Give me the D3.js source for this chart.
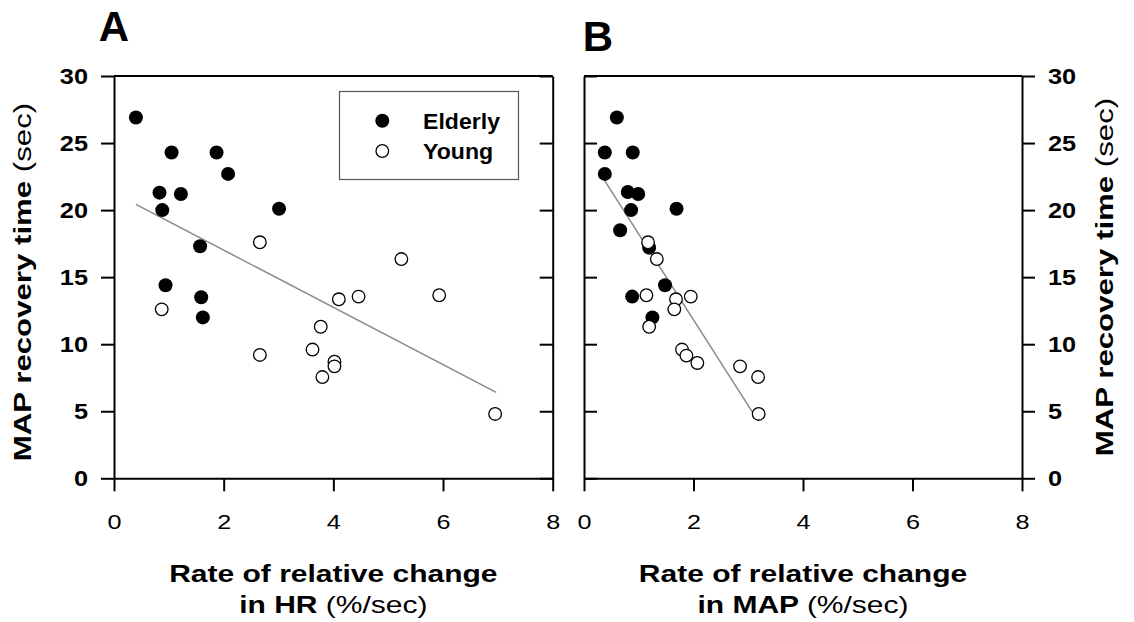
<!DOCTYPE html>
<html>
<head>
<meta charset="utf-8">
<script src="https://cdn.jsdelivr.net/npm/d3@7"></script>
<style>
  html, body { margin: 0; padding: 0; background: #fff; }
  svg { display: block; }
  text { font-family: "Liberation Sans", Arial, Helvetica, sans-serif; fill: #000; }
</style>
</head>
<body>
<svg id="chart" width="1134" height="622"></svg>
<script>
// Panel A: MAP recovery time vs rate of relative change in HR
const hrElderlyX = [0.40, 1.05, 1.87, 2.08, 0.83, 1.22, 0.88, 3.01, 1.57, 0.94, 1.59, 1.62];
const hrElderlyY = [26.9, 24.3, 24.3, 22.7, 21.3, 21.2, 20.0, 20.1, 17.3, 14.4, 13.5, 12.0];
const hrYoungX = [0.87, 2.66, 4.10, 4.46, 3.77, 2.66, 3.62, 4.02, 4.02, 3.80, 5.24, 5.93, 6.95];
const hrYoungY = [12.6, 17.6, 13.35, 13.55, 11.3, 9.2, 9.6, 8.7, 8.35, 7.55, 16.35, 13.65, 4.8];
const hrFitX = [0.40, 6.97];
const hrFitY = [20.43, 6.41];

// Panel B: MAP recovery time vs rate of relative change in MAP
const mapElderlyX = [0.60, 0.38, 0.89, 0.38, 0.80, 0.99, 0.86, 1.69, 0.66, 1.19, 1.48, 0.88, 1.25];
const mapElderlyY = [26.9, 24.3, 24.3, 22.7, 21.35, 21.2, 20.0, 20.1, 18.5, 17.2, 14.4, 13.55, 12.0];
const mapYoungX = [1.17, 1.33, 1.14, 1.68, 1.95, 1.65, 1.19, 1.79, 1.87, 2.07, 2.85, 3.18, 3.19];
const mapYoungY = [17.6, 16.35, 13.65, 13.35, 13.55, 12.6, 11.3, 9.6, 9.15, 8.6, 8.35, 7.55, 4.8];
const mapFitX = [0.38, 3.12];
const mapFitY = [22.18, 4.65];

const xTicks = [0, 2, 4, 6, 8];
const yTicks = [0, 5, 10, 15, 20, 25, 30];
const legendLabels = ["Elderly", "Young"];

const svg = d3.select("#chart");

const y = d3.scaleLinear().domain([0, 30]).range([478.3, 76]);
const xA = d3.scaleLinear().domain([0, 8]).range([114, 552.7]);
const xB = d3.scaleLinear().domain([0, 8]).range([584, 1022]);

const TICK = 13;
const STROKE = 2;

// Horizontally stretched text helper; parts = [[string, weight], ...]
function label(parent, parts, x, yPos, opts) {
  const o = Object.assign({ size: 22, sx: 1, rotate: 0, anchor: "middle" }, opts);
  const t = parent.append("text")
    .attr("transform", `translate(${x},${yPos}) rotate(${o.rotate}) scale(${o.sx},1)`)
    .attr("text-anchor", o.anchor)
    .style("font-size", o.size + "px");
  parts.forEach(([s, w]) => t.append("tspan").text(s).style("font-weight", w));
  return t;
}

function styleAxis(g) {
  g.selectAll(".domain").attr("stroke", "#000").attr("stroke-width", STROKE);
  g.selectAll(".tick line").attr("stroke", "#000").attr("stroke-width", STROKE);
}

function stretchTickText(g, sx, weight, size) {
  g.selectAll(".tick text").each(function () {
    const t = d3.select(this);
    const x0 = +t.attr("x") || 0;
    t.attr("x", x0 / sx)
      .attr("transform", `scale(${sx},1)`)
      .style("font-size", size + "px")
      .style("font-weight", weight)
      .style("font-family", '"Liberation Sans", Arial, sans-serif')
      .attr("fill", "#000");
  });
}

function panel(x, opts) {
  const g = svg.append("g");

  // top frame line
  g.append("line")
    .attr("x1", x.range()[0]).attr("x2", x.range()[1])
    .attr("y1", y(30)).attr("y2", y(30))
    .attr("stroke", "#000").attr("stroke-width", STROKE);

  // bottom axis
  const bx = g.append("g")
    .attr("transform", `translate(0,${y(0)})`)
    .call(d3.axisBottom(x).tickValues(xTicks).tickSizeInner(TICK).tickSizeOuter(0).tickPadding(23));
  styleAxis(bx);
  stretchTickText(bx, 1.2, "normal", 21);

  // left side
  const leftAxis = opts.leftLabels
    ? d3.axisLeft(y).tickValues(yTicks).tickSizeInner(TICK).tickSizeOuter(0).tickPadding(13)
    : d3.axisLeft(y).tickValues(yTicks).tickSizeInner(-TICK).tickSizeOuter(0).tickFormat("");
  const ly = g.append("g").attr("transform", `translate(${x.range()[0]},0)`).call(leftAxis);
  styleAxis(ly);
  if (opts.leftLabels) stretchTickText(ly, 1.15, "bold", 22);

  // right side
  const rightAxis = opts.rightLabels
    ? d3.axisRight(y).tickValues(yTicks).tickSizeInner(TICK).tickSizeOuter(0).tickPadding(13)
    : d3.axisRight(y).tickValues(yTicks).tickSizeInner(-TICK).tickSizeOuter(0).tickFormat("");
  const ry = g.append("g").attr("transform", `translate(${x.range()[1]},0)`).call(rightAxis);
  styleAxis(ry);
  if (opts.rightLabels) stretchTickText(ry, 1.15, "bold", 22);

  // regression line
  g.append("path")
    .datum(d3.zip(opts.fitX, opts.fitY))
    .attr("d", d3.line().x(d => x(d[0])).y(d => y(d[1])))
    .attr("fill", "none").attr("stroke", "#8a8a8a").attr("stroke-width", 1.5);

  // elderly (filled)
  g.append("g").selectAll("circle")
    .data(d3.zip(opts.eX, opts.eY)).join("circle")
    .attr("cx", d => x(d[0])).attr("cy", d => y(d[1])).attr("r", 7)
    .attr("fill", "#000");

  // young (open)
  g.append("g").selectAll("circle")
    .data(d3.zip(opts.yX, opts.yY)).join("circle")
    .attr("cx", d => x(d[0])).attr("cy", d => y(d[1])).attr("r", 6.3)
    .attr("fill", "#fff").attr("stroke", "#000").attr("stroke-width", 1.3);

  // x-axis title
  const cx = (x.range()[0] + x.range()[1]) / 2;
  label(g, [["Rate of relative change", "bold"]], cx, 582, { size: 24, sx: 1.25 });
  label(g, [[opts.xVar + " ", "bold"], ["(%/sec)", "normal"]], cx, 613, { size: 24, sx: 1.25 });

  return g;
}

const gA = panel(xA, {
  leftLabels: true, rightLabels: false,
  eX: hrElderlyX, eY: hrElderlyY, yX: hrYoungX, yY: hrYoungY,
  fitX: hrFitX, fitY: hrFitY, xVar: "in HR"
});
const gB = panel(xB, {
  leftLabels: false, rightLabels: true,
  eX: mapElderlyX, eY: mapElderlyY, yX: mapYoungX, yY: mapYoungY,
  fitX: mapFitX, fitY: mapFitY, xVar: "in MAP"
});

// y-axis titles
const yTitle = [["MAP recovery time ", "bold"], ["(sec)", "normal"]];
label(svg, yTitle, 31, 282, { size: 24, sx: 1.3, rotate: -90 });
label(svg, yTitle, 1113, 277, { size: 24, sx: 1.3, rotate: -90 });

// panel letters
label(svg, [["A", "bold"]], 114, 41, { size: 42 });
label(svg, [["B", "bold"]], 598, 51, { size: 42 });

// legend
const lg = svg.append("g");
lg.append("rect")
  .attr("x", 339.5).attr("y", 91.5).attr("width", 179).attr("height", 88)
  .attr("fill", "#fff").attr("stroke", "#555").attr("stroke-width", 1.2);
const legendRows = d3.scalePoint().domain(legendLabels).range([120.7, 151]);
lg.append("circle").attr("cx", 382.3).attr("cy", legendRows("Elderly")).attr("r", 7).attr("fill", "#000");
lg.append("circle").attr("cx", 382.3).attr("cy", legendRows("Young")).attr("r", 6.3)
  .attr("fill", "#fff").attr("stroke", "#000").attr("stroke-width", 1.3);
legendLabels.forEach(name => {
  label(lg, [[name, "bold"]], 423, legendRows(name) + 8, { size: 22, sx: 1.05, anchor: "start" });
});
</script>
</body>
</html>
